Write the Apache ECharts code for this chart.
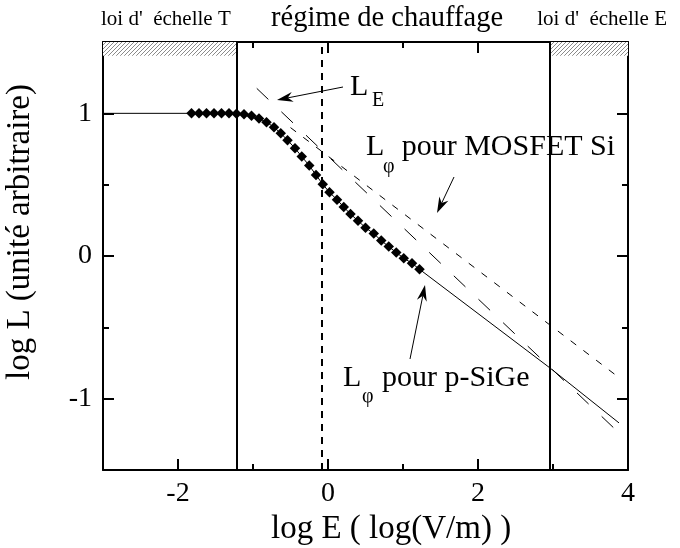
<!DOCTYPE html>
<html>
<head>
<meta charset="utf-8">
<script src="https://cdn.jsdelivr.net/npm/echarts@6/dist/echarts.min.js"></script>
<style>
  html, body { margin: 0; padding: 0; background: #fff; }
  #chart { width: 680px; height: 548px; }
</style>
</head>
<body>
<div id="chart"></div>
<script>
// ---- data ---------------------------------------------------------------
// axis extents (log E, log L)
const xRange = [-3, 4];
const yRange = [-1.5, 1.5];
const xMajorTicks = [-2, 0, 2, 4];
const xMinorTicks = [-1, 1, 3];
const yMajorTicks = [-1, 0, 1];
const yMinorTicks = [-0.5, 0.5];

// measured L_phi for p-SiGe
const sigeLogE = [-1.82, -1.72, -1.62, -1.52, -1.42, -1.32, -1.22, -1.12, -1.02, -0.92,
                  -0.82, -0.72, -0.63, -0.54, -0.44, -0.35, -0.25, -0.16, -0.07, 0.02,
                  0.12, 0.21, 0.30, 0.40, 0.50, 0.61, 0.71, 0.81, 0.91, 1.01, 1.12, 1.22];
const sigeLogL = [1.0, 1.0, 1.0, 1.0, 1.0, 1.0, 0.997, 0.993, 0.983, 0.963,
                  0.938, 0.903, 0.86, 0.812, 0.755, 0.697, 0.634, 0.568, 0.503, 0.446,
                  0.395, 0.343, 0.294, 0.247, 0.198, 0.157, 0.108, 0.066, 0.024, -0.015, -0.051, -0.093];

// model curve for p-SiGe: low-field plateau and high-field tail
const fitLowLogE = [-3.0];
const fitLowLogL = [1.0];
const fitHighLogE = [2.96, 3.88];
const fitHighLogL = [-0.785, -1.17];

// L_E power law
const lELogE = [-0.95, 3.85];
const lELogL = [1.175, -1.225];

// L_phi for Si MOSFET
const mosLogE = [-0.5, 3.88];
const mosLogL = [0.9, -0.852];

// regime boundaries and onset of heating
const regimeBounds = [-1.22, 2.96];
const heatingOnset = -0.08;
const bandBottom = 1.404;

// ---- helpers -------------------------------------------------------------
const FONT = '"Liberation Serif", "Times New Roman", serif';
const zip = (a, b) => a.map((v, i) => [v, b[i]]);

function hatchPattern() {
  const c = document.createElement('canvas');
  c.width = 4; c.height = 4;
  const g = c.getContext('2d');
  g.fillStyle = '#ffffff';
  g.fillRect(0, 0, 4, 4);
  g.fillStyle = '#8a8a8a';
  for (let i = 0; i < 4; i++) g.fillRect(i, 3 - i, 1, 1);
  return { image: c, repeat: 'repeat' };
}

const sigePoints = zip(sigeLogE, sigeLogL);
const sigeCurve = zip(fitLowLogE, fitLowLogL).concat(sigePoints, zip(fitHighLogE, fitHighLogL));

function tickAxis(pos, type, range, ticks, len, withLine, labels) {
  const isX = type === 'x';
  return {
    type: 'value', gridIndex: 0, position: pos, min: range[0], max: range[1],
    axisLine: { show: withLine, onZero: false, lineStyle: { color: '#000', width: 2 } },
    axisTick: { show: true, inside: true, length: len, customValues: ticks,
                lineStyle: { color: '#000', width: 2 } },
    axisLabel: labels ? {
      show: true, customValues: ticks, color: '#000', fontFamily: FONT, fontSize: 28,
      margin: isX ? 10 : 11,
      formatter: v => String(v)
    } : { show: false },
    splitLine: { show: false }
  };
}

const chart = echarts.init(document.getElementById('chart'), null, { renderer: 'canvas' });

function text(x, y, str, size, align) {
  return { type: 'text', x: x, y: y, silent: true,
           style: { text: str, fill: '#000', font: size + 'px ' + FONT,
                    textAlign: align || 'left', textVerticalAlign: 'middle' } };
}

function arrow(x1, y1, x2, y2) {
  const dx = x2 - x1, dy = y2 - y1, d = Math.hypot(dx, dy);
  const ux = dx / d, uy = dy / d, px = -uy, py = ux;
  const L = 16, W = 5, N = 11;
  return [
    { type: 'line', silent: true,
      shape: { x1: x1, y1: y1, x2: x2 - ux * N, y2: y2 - uy * N },
      style: { stroke: '#000', lineWidth: 1 } },
    { type: 'polygon', silent: true,
      shape: { points: [[x2, y2],
                        [x2 - ux * L + px * W, y2 - uy * L + py * W],
                        [x2 - ux * N, y2 - uy * N],
                        [x2 - ux * L - px * W, y2 - uy * L - py * W]] },
      style: { fill: '#000' } }
  ];
}

const option = {
  animation: false,
  backgroundColor: '#fff',
  grid: { left: 103, right: 52, top: 42, bottom: 78, containLabel: false, outerBoundsMode: 'none' },
  xAxis: [
    tickAxis('bottom', 'x', xRange, xMajorTicks, 11, true, true),
    tickAxis('bottom', 'x', xRange, xMinorTicks, 6, false, false),
    tickAxis('top', 'x', xRange, xMajorTicks, 11, true, false),
    tickAxis('top', 'x', xRange, xMinorTicks, 6, false, false)
  ],
  yAxis: [
    tickAxis('left', 'y', yRange, yMajorTicks, 11, true, true),
    tickAxis('left', 'y', yRange, yMinorTicks, 6, false, false),
    tickAxis('right', 'y', yRange, yMajorTicks, 11, true, false),
    tickAxis('right', 'y', yRange, yMinorTicks, 6, false, false)
  ],
  series: [
    {
      name: 'p-SiGe (modèle)', type: 'line', xAxisIndex: 0, yAxisIndex: 0,
      data: sigeCurve, showSymbol: false, symbol: 'none', z: 3,
      lineStyle: { color: '#000', width: 1 },
      markArea: {
        silent: true,
        itemStyle: { color: hatchPattern() },
        data: [
          [{ xAxis: xRange[0], yAxis: bandBottom }, { xAxis: regimeBounds[0], yAxis: yRange[1] }],
          [{ xAxis: regimeBounds[1], yAxis: bandBottom }, { xAxis: xRange[1], yAxis: yRange[1] }]
        ]
      },
      markLine: {
        silent: true, symbol: ['none', 'none'], label: { show: false },
        lineStyle: { color: '#000', width: 2, type: 'solid' },
        data: [
          { xAxis: regimeBounds[0] },
          { xAxis: regimeBounds[1] },
          { xAxis: heatingOnset, lineStyle: { type: [7, 6], width: 2, color: '#000' } }
        ]
      }
    },
    {
      name: 'p-SiGe', type: 'scatter', xAxisIndex: 0, yAxisIndex: 0,
      data: sigePoints, symbol: 'diamond', symbolSize: 10.5, z: 4,
      itemStyle: { color: '#000', opacity: 1 }
    },
    {
      name: 'L_E', type: 'line', xAxisIndex: 0, yAxisIndex: 0,
      data: zip(lELogE, lELogL), symbol: 'none', z: 2,
      lineStyle: { color: '#000', width: 1, type: [16, 18] }
    },
    {
      name: 'MOSFET Si', type: 'line', xAxisIndex: 0, yAxisIndex: 0,
      data: zip(mosLogE, mosLogL), symbol: 'none', z: 2,
      lineStyle: { color: '#000', width: 1, type: [7, 9] }
    }
  ],
  graphic: [
    text(101, 19.9, "loi d'  échelle T", 21),
    text(271, 18.8, 'régime de chauffage', 28.5),
    text(667, 19.9, "loi d'  échelle E", 21, 'right'),
    {
      type: 'text', x: 20, y: 232, rotation: Math.PI / 2, silent: true,
      style: { text: 'log L (unité arbitraire)', fill: '#000', font: '33px ' + FONT,
               textAlign: 'center', textVerticalAlign: 'middle' }
    },
    text(271, 529, 'log E ( log(V/m) )', 33),
    // L_E label
    text(350, 86.8, 'L', 30),
    text(372, 101.2, 'E', 20),
    // MOSFET label
    text(366, 146.8, 'L', 30),
    text(383, 167.2, 'φ', 20),
    text(401.7, 146.8, 'pour MOSFET Si', 30),
    // p-SiGe label
    text(343, 377.8, 'L', 30),
    text(362, 397.2, 'φ', 20),
    text(382, 377.8, 'pour p-SiGe', 30)
  ].concat(arrow(343, 87, 277, 100), arrow(454, 177, 437, 213), arrow(410, 359, 425, 285))
};

chart.setOption(option);
</script>
</body>
</html>
